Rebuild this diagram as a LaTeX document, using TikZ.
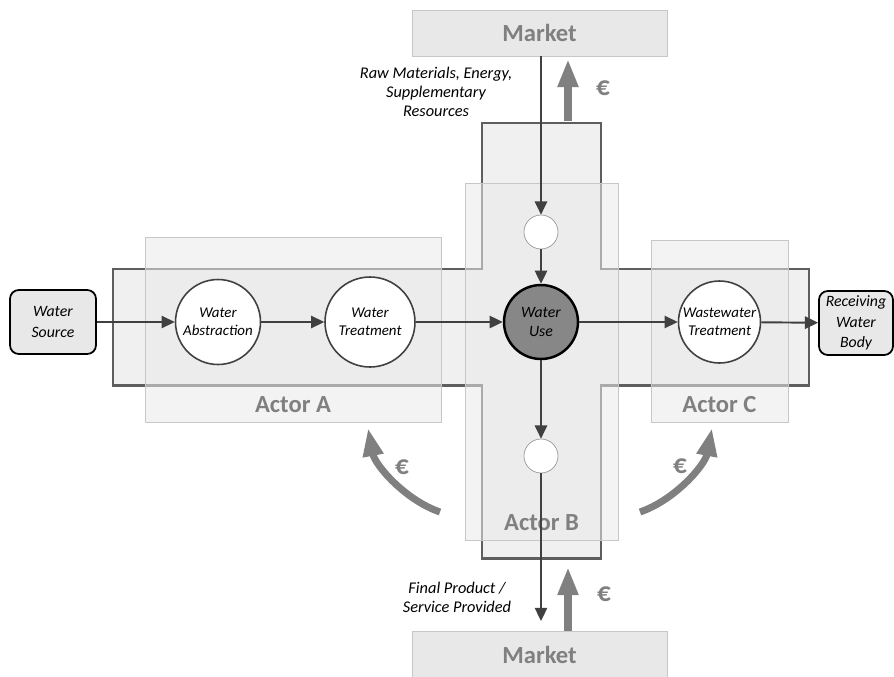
\documentclass[tikz,border=0pt]{standalone}
\usepackage{fontspec}
\setmainfont{Carlito}
\usetikzlibrary{arrows.meta,positioning}
\definecolor{grisOscuro}{HTML}{404040}
\definecolor{grisTexto}{HTML}{808080}
\definecolor{grisCruz}{HTML}{F0F0F0}
\definecolor{grisBorde}{HTML}{5E5E5E}
\definecolor{grisActor}{HTML}{EAEAEA}
\tikzset{
	mercado/.style={rectangle, draw=black!22, fill=black!9, 
		text=grisTexto, font=\bfseries\fontsize{14}{16}\selectfont, 
		minimum width=5.1cm, minimum height=0.92cm, inner sep=0pt},
	actor/.style={rectangle, draw=black!22, fill=grisActor, 
		fill opacity=0.55, inner sep=0pt},
	nombre/.style={text=grisTexto, font=\bfseries\fontsize{14}{16}\selectfont},
	proceso/.style={circle, draw=grisOscuro, line width=0.9pt, fill=white, 
		inner sep=0pt, minimum size=1.7cm, align=center, 
		font=\itshape\fontsize{8.5}{10}\selectfont},
	nodo/.style={circle, draw=black!40, fill=white, inner sep=0pt, 
		minimum size=0.68cm},
	extremo/.style={rectangle, rounded corners=5pt, draw=black, line width=1pt, 
		fill=black!9, align=center, inner sep=0pt, 
		font=\itshape\fontsize{9}{11.5}\selectfont},
	flujo/.style={draw=grisOscuro, line width=1.1pt, 
		-{Triangle[length=7.5pt,width=7pt]}},
	pago/.style={draw=grisTexto, line width=4pt, 
		-{Triangle[length=16pt,width=11pt]}},
	euro/.style={text=grisTexto, font=\bfseries\fontsize{15.5}{17}\selectfont},
	nota/.style={align=center, font=\itshape\fontsize{9.3}{10.8}\selectfont}
}

\begin{document}
\begin{tikzpicture}[x=0.02cm, y=-0.02cm]
	\useasboundingbox (0,0) rectangle (894,677);
	
	% mercados
	\node[mercado] (mercadoA) at (539.5,33) {Market};
	\node[mercado, minimum height=0.96cm] (mercadoB) at (539.5,655) {Market};
	
	% cruz
	\draw[line width=1.7pt, draw=grisBorde, fill=grisCruz] (482,123) -- (601,123) -- (601,269) 
		-- (809,269) -- (809,385) -- (601,385) -- (601,558) -- (482,558) -- (482,385) 
		-- (113,385) -- (113,269) -- (482,269) -- cycle;
	
	% actores
	\node[actor, minimum width=5.92cm, minimum height=3.7cm] (actorA) at (293,329.5) {};
	\node[actor, minimum width=3.06cm, minimum height=7.14cm] (actorB) at (541.5,361.5) {};
	\node[actor, minimum width=2.74cm, minimum height=3.64cm] (actorC) at (719.5,331) {};
	\node[nombre, above=2pt of actorA.south] (tA) {Actor A};
	\node[nombre, above=2pt of actorB.south] (tB) {Actor B};
	\node[nombre, above=2pt of actorC.south] (tC) {Actor C};
	
	% procesos
	\node[extremo, minimum width=1.72cm, minimum height=1.28cm] (fuente) at (53,322) {Water\\Source};
	\node[proceso] (captacion) at (218,322) {Water\\Abstraction};
	\node[proceso, minimum size=1.8cm] (tratamiento) at (370,322) {Water\\Treatment};
	\node[proceso, fill=black!47, draw=black, line width=1.4pt, minimum size=1.48cm, 
		font=\itshape\fontsize{9}{11}\selectfont] (uso) at (541,322) {Water\\Use};
	\node[proceso, minimum size=1.64cm] (depuracion) at (719.5,322) {Wastewater\\Treatment};
	\node[extremo, minimum width=1.48cm, minimum height=1.28cm] (receptor) at (856,323) {Receiving\\Water\\Body};
	\node[nodo] (entrada) at (541,232) {};
	\node[nodo] (salida) at (541,456) {};
	
	% flujos
	\draw[flujo] (fuente) -- (captacion);
	\draw[flujo] (captacion) -- (tratamiento);
	\draw[flujo] (tratamiento) -- (uso);
	\draw[flujo] (uso) -- (depuracion);
	\draw[flujo] (depuracion) -- (receptor);
	\draw[flujo] (mercadoA.south -| entrada) -- (entrada);
	\draw[flujo] (entrada) -- (uso);
	\draw[flujo] (uso) -- (salida);
	\draw[flujo, shorten >=5.5pt] (salida) -- (salida |- mercadoB.north);
	
	% pagos
	\coordinate (pagoA) at (568,121);
	\coordinate (pagoB) at (568,567);
	\coordinate (pagoI) at (440,512);
	\coordinate (pagoD) at (640,512);
	\draw[pago, shorten >=1.5pt] (pagoA) -- (pagoA |- mercadoA.south);
	\draw[pago] (mercadoB.north -| pagoB) -- (pagoB);
	\draw[pago] (pagoI) .. controls (405,500) and (375,465) .. (368,428);
	\draw[pago] (pagoD) .. controls (675,500) and (705,465) .. (712,428);
	\node[euro] (eA) at (603,88) {€};
	\node[euro] (eB) at (604,594) {€};
	\node[euro] (eI) at (402,467) {€};
	\node[euro] (eD) at (680,466) {€};
	
	% notas
	\node[nota] (insumos) at (436,92) {Raw Materials, Energy,\\Supplementary\\Resources};
	\node[nota] (producto) at (457,597) {Final Product /\\Service Provided};
\end{tikzpicture}
\end{document}
